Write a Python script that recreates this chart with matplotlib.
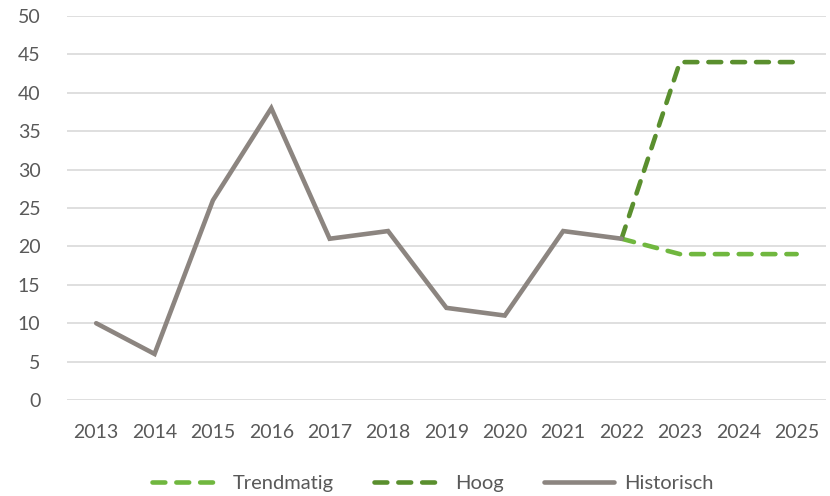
import matplotlib
matplotlib.use("Agg")
import matplotlib.pyplot as plt
from matplotlib.lines import Line2D

plt.rcParams['font.family'] = ['Lato', 'DejaVu Sans']

years = [str(y) for y in range(2013, 2026)]
hist_years = years[:10]
historisch = [10, 6, 26, 38, 21, 22, 12, 11, 22, 21]
proj_years = years[9:]
trendmatig = [21, 19, 19, 19]
hoog = [21, 44, 44, 44]

c_trend = '#70B73F'
c_hoog = '#5A8F2E'
c_hist = '#8C8580'
c_text = '#595959'

fig = plt.figure(figsize=(8.30, 4.96), dpi=100)
ax = fig.add_axes([0.0807, 0.1935, 0.9143, 0.7742])

idx = {y: i for i, y in enumerate(years)}
lw = 3.3
dash = (0, (2.8, 2.4))
ax.plot([idx[y] for y in proj_years], trendmatig, color=c_trend, lw=lw,
        linestyle=dash, dash_capstyle='round', solid_capstyle='round', zorder=3)
ax.plot([idx[y] for y in proj_years], hoog, color=c_hoog, lw=lw,
        linestyle=dash, dash_capstyle='round', solid_capstyle='round', zorder=3)
ax.plot([idx[y] for y in hist_years], historisch, color=c_hist, lw=lw,
        solid_capstyle='round', solid_joinstyle='miter', zorder=4)

ax.set_xlim(-0.5, len(years) - 0.5)
ax.set_ylim(0, 50)
ax.set_yticks(range(0, 51, 5))
ax.set_xticks(range(len(years)))
ax.set_xticklabels(years)
ax.grid(axis='y', color='#D9D9D9', lw=1.2)
ax.set_axisbelow(True)
for s in ax.spines.values():
    s.set_visible(False)
ax.tick_params(axis='both', length=0, colors=c_text, labelsize=14)
ax.tick_params(axis='x', pad=17)
ax.tick_params(axis='y', pad=19)

handles = [
    Line2D([], [], color=c_trend, lw=lw, linestyle=dash, dash_capstyle='round'),
    Line2D([], [], color=c_hoog, lw=lw, linestyle=dash, dash_capstyle='round'),
    Line2D([], [], color=c_hist, lw=lw, solid_capstyle='round'),
]
leg = fig.legend(handles, ['Trendmatig', 'Hoog', 'Historisch'], loc='center',
                 bbox_to_anchor=(0.522, 0.025), ncol=3, frameon=False,
                 fontsize=14.5, handlelength=3.5, columnspacing=2.0, handletextpad=0.5)
for t in leg.get_texts():
    t.set_color(c_text)

fig.savefig('out.png', dpi=100)
